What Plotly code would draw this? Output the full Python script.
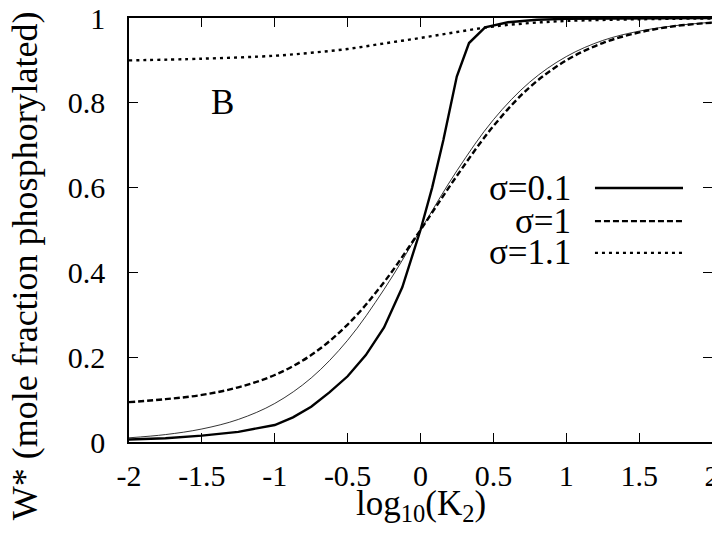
import plotly.graph_objects as go

# --- data ---
x_s01 = [-2, -1.75, -1.5, -1.25, -1.0, -0.875, -0.75, -0.625, -0.5, -0.375, -0.25, -0.125,
         0, 0.08, 0.157, 0.249, 0.333, 0.443, 0.6, 0.8, 1.0, 1.5, 2.0]
y_s01 = [0.006, 0.009, 0.015, 0.024, 0.040, 0.058, 0.083, 0.117, 0.155, 0.205, 0.27, 0.365,
         0.5, 0.60, 0.712, 0.862, 0.941, 0.978, 0.990, 0.996, 0.998, 0.9995, 1.0]

x_s1 = [-2, -1.75, -1.5, -1.25, -1.0, -0.75, -0.5, -0.25, 0, 0.25, 0.5, 0.75, 1.0, 1.25, 1.5, 1.75, 2.0]
y_s1 = [0.094, 0.101, 0.111, 0.129, 0.158, 0.205, 0.277, 0.377, 0.5, 0.628, 0.745, 0.837, 0.900,
        0.941, 0.966, 0.981, 0.989]

x_s11 = [-2, -1.5, -1.0, -0.75, -0.5, -0.25, 0, 0.25, 0.5, 0.75, 1.0, 1.5, 2.0]
y_s11 = [0.900, 0.904, 0.911, 0.918, 0.927, 0.940, 0.953, 0.967, 0.980, 0.988, 0.993, 0.997, 0.999]

x_ref = [-2, -1.75, -1.5, -1.25, -1.0, -0.75, -0.5, -0.25, 0, 0.25, 0.5, 0.75, 1.0, 1.25, 1.5, 1.75, 2.0]
y_ref = [0.0099, 0.0175, 0.0307, 0.0532, 0.0909, 0.151, 0.240, 0.360, 0.5, 0.640, 0.760, 0.849,
         0.909, 0.947, 0.969, 0.982, 0.990]

x_ticks = [-2, -1.5, -1, -0.5, 0, 0.5, 1, 1.5, 2]
x_ticklabels = ["-2", "-1.5", "-1", "-0.5", "0", "0.5", "1", "1.5", "2"]
y_ticks = [0, 0.2, 0.4, 0.6, 0.8, 1]
y_ticklabels = ["0", "0.2", "0.4", "0.6", "0.8", "1"]

legend_names = ["σ=0.1", "σ=1", "σ=1.1"]
legend_y = [0.599, 0.521, 0.446]
legend_x = [1.197, 1.801]
legend_text_x = 1.046
dashes = ["solid", "6px,3px", "3px,4px"]

FONT = "Liberation Serif, Times New Roman, serif"
FS_TICK = 30
FS = 35

fig = go.Figure()
fig.add_trace(go.Scatter(x=x_ref, y=y_ref, mode="lines", line=dict(color="black", width=0.8, shape="spline")))
fig.add_trace(go.Scatter(x=x_s01, y=y_s01, mode="lines", line=dict(color="black", width=2.4, dash=dashes[0])))
fig.add_trace(go.Scatter(x=x_s1, y=y_s1, mode="lines", line=dict(color="black", width=2.4, dash=dashes[1], shape="spline")))
fig.add_trace(go.Scatter(x=x_s11, y=y_s11, mode="lines", line=dict(color="black", width=2.4, dash=dashes[2], shape="spline")))

# gnuplot-style key: text right-aligned, sample line to the right
for name, ly, d in zip(legend_names, legend_y, dashes):
    fig.add_trace(go.Scatter(x=legend_x, y=[ly, ly], mode="lines",
                             line=dict(color="black", width=2.4, dash=d)))
    fig.add_annotation(x=legend_text_x, y=ly, xref="x", yref="y", text=name, showarrow=False,
                       xanchor="right", yanchor="middle", font=dict(family=FONT, size=FS, color="black"))

fig.add_annotation(x=-1.36, y=0.8, xref="x", yref="y", text="B", showarrow=False,
                   xanchor="center", yanchor="middle", font=dict(family=FONT, size=FS, color="black"))

fig.add_annotation(x=-0.178, y=0.415, xref="paper", yref="paper", text="W* (mole fraction phosphorylated)",
                   textangle=-90, showarrow=False, xanchor="center", yanchor="middle",
                   font=dict(family=FONT, size=36, color="black"))

fig.add_annotation(x=0.5, y=-0.149, xref="paper", yref="paper", text="log<sub>10</sub>(K<sub>2</sub>)",
                   showarrow=False, xanchor="center", yanchor="middle",
                   font=dict(family=FONT, size=FS, color="black"))

axis_common = dict(showgrid=False, zeroline=False, showline=True, linecolor="black", linewidth=1.5,
                   mirror="allticks", ticks="inside", ticklen=9, tickwidth=1.2, tickcolor="black",
                   automargin=False, ticklabeloverflow="allow",
                   tickfont=dict(family=FONT, size=FS_TICK, color="black"))

# page body adds a small offset, so the figure is slightly smaller than the window
fig.update_layout(
    width=712, height=534,
    margin=dict(l=121, r=8, t=10, b=100),
    paper_bgcolor="white", plot_bgcolor="white",
    font=dict(family=FONT, color="black"),
    showlegend=False,
    xaxis=dict(range=[-2, 2], tickvals=x_ticks, ticktext=x_ticklabels, ticklabelstandoff=6, **axis_common),
    yaxis=dict(range=[0, 1], tickvals=y_ticks, ticktext=y_ticklabels, ticklabelstandoff=16, **axis_common),
)

fig.write_html("out.html")
